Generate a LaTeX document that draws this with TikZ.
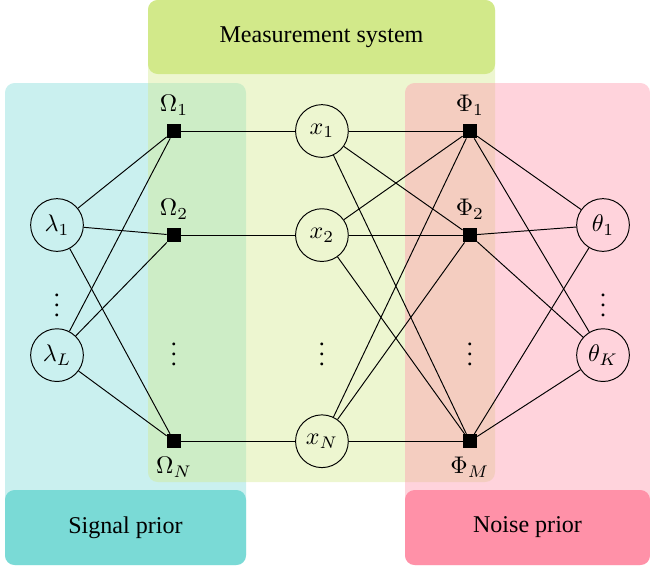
\documentclass[tikz,border=0pt]{standalone}
\usepackage[no-math]{fontspec}
\setmainfont{Liberation Serif}
\usepackage{amsmath}
\usepackage{tikz}
\usetikzlibrary{positioning}
\definecolor{sigcol}{RGB}{122,218,214}
\definecolor{meascol}{RGB}{210,233,138}
\definecolor{noisecol}{RGB}{255,145,168}
\tikzstyle{var} = [circle, draw, minimum size=0.77cm, inner sep=0pt]
\tikzstyle{factor} = [rectangle, fill=black, minimum size=0.2cm, inner sep=0pt]
\tikzstyle{dots} = [inner sep=0pt]
\tikzstyle{line} = [draw]
\tikzstyle{region} = [rounded corners=4pt, fill opacity=0.4]

\begin{document}
\begin{tikzpicture}[x=0.0146cm, y=-0.0146cm, on grid]
        \useasboundingbox (0,0) rectangle (650,567);
        % Regions
        \fill [region, sigcol] (5,83) rectangle (246,565);
        \fill [region, meascol] (148,0) rectangle (495,482);
        \fill [region, noisecol] (405,83) rectangle (650,565);
        \fill [rounded corners=4pt, meascol] (148,0) rectangle (495,74);
        \fill [rounded corners=4pt, sigcol] (5,490) rectangle (246,565);
        \fill [rounded corners=4pt, noisecol] (405,490) rectangle (650,565);
        \node (meas) at (321.5,37) {Measurement system};
        \node (sig) at (125.5,527.5) {Signal prior};
        \node (noise) at (527.5,527.5) {Noise prior};
        % Place nodes
        \node [var] (l1) at (57,225) {$\lambda_1$};
        \node [dots, below=1.07cm of l1] (ldots) {$\vdots$};
        \node [var, below=1.9cm of l1] (lL) {$\lambda_L$};
        \node [factor, label=above:$\Omega_1$] (o1) at (174,131) {};
        \node [factor, below=1.52cm of o1, label=above:$\Omega_2$] (o2) {};
        \node [dots, below=1.635cm of o2] (odots) {$\vdots$};
        \node [factor, below=3.01cm of o2, label=below:$\Omega_N$] (oN) {};
        \node [var, right=2.16cm of o1] (x1) {$x_1$};
        \node [var, right=2.16cm of o2] (x2) {$x_2$};
        \node [dots, right=2.16cm of odots] (xdots) {$\vdots$};
        \node [var, right=2.16cm of oN] (xN) {$x_N$};
        \node [factor, right=2.16cm of x1, label=above:$\Phi_1$] (p1) {};
        \node [factor, right=2.16cm of x2, label=above:$\Phi_2$] (p2) {};
        \node [dots, right=2.16cm of xdots] (pdots) {$\vdots$};
        \node [factor, right=2.16cm of xN, label=below:$\Phi_M$] (pM) {};
        \node [var] (t1) at (603,225) {$\theta_1$};
        \node [dots, below=1.07cm of t1] (tdots) {$\vdots$};
        \node [var, below=1.9cm of t1] (tK) {$\theta_K$};
        % Draw edges
        \path [line] (l1) -- (o1);
        \path [line] (l1) -- (o2);
        \path [line] (l1) -- (oN);
        \path [line] (lL) -- (o1);
        \path [line] (lL) -- (o2);
        \path [line] (lL) -- (oN);
        \path [line] (o1) -- (x1);
        \path [line] (o2) -- (x2);
        \path [line] (oN) -- (xN);
        \path [line] (x1) -- (p1);
        \path [line] (x1) -- (p2);
        \path [line] (x1) -- (pM);
        \path [line] (x2) -- (p1);
        \path [line] (x2) -- (p2);
        \path [line] (x2) -- (pM);
        \path [line] (xN) -- (p1);
        \path [line] (xN) -- (p2);
        \path [line] (xN) -- (pM);
        \path [line] (p1) -- (t1);
        \path [line] (p1) -- (tK);
        \path [line] (p2) -- (t1);
        \path [line] (p2) -- (tK);
        \path [line] (pM) -- (t1);
        \path [line] (pM) -- (tK);
\end{tikzpicture}
\end{document}
